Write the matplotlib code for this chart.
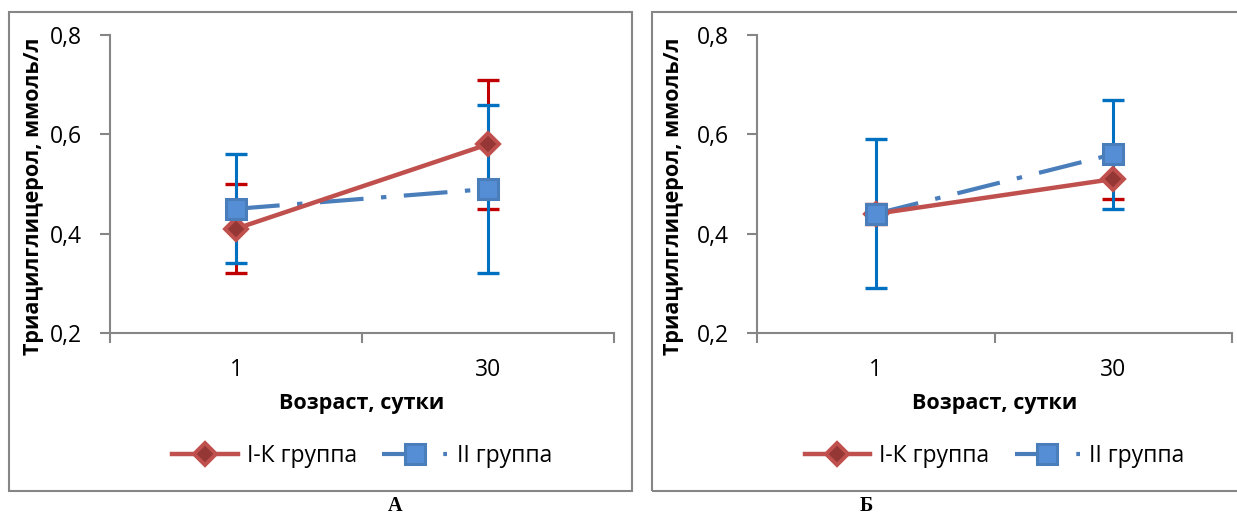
import matplotlib
matplotlib.use("Agg")
import matplotlib.pyplot as plt
from matplotlib.lines import Line2D
from matplotlib.patches import Rectangle

plt.rcParams['font.family'] = ['Open Sans', 'DejaVu Sans']

# ---- data ----
categories = ["1", "30"]
yticks = [0.2, 0.4, 0.6, 0.8]
ytick_labels = ["0,2", "0,4", "0,6", "0,8"]
series_names = ["I-К группа", "II группа"]

a_group1 = [0.41, 0.58]
a_group1_err = [0.09, 0.13]
a_group2 = [0.45, 0.49]
a_group2_err = [0.11, 0.17]

b_group1 = [0.44, 0.51]
b_group1_err = [0.02, 0.04]
b_group2 = [0.44, 0.56]
b_group2_err = [0.15, 0.11]

panel_labels = ["А", "Б"]
ylabel = "Триацилглицерол, ммоль/л"
xlabel = "Возраст, сутки"

# ---- style ----
W, H = 1237, 515
RED = "#C0504D"
RED_DARK = "#953735"
RED_ERR = "#C00000"
BLUE = "#4A7EBB"
BLUE_FILL = "#558ED5"
BLUE_ERR = "#0070C0"
GRAY = "#868686"
FS = 16.5
FSB = 15.5

fig = plt.figure(figsize=(W / 100, H / 100), dpi=100)


def fx(px):
    return px / W


def fy(py):
    return 1 - py / H


# panel borders
for (x0, x1) in [(9, 632), (652, 1245)]:
    fig.patches.append(Rectangle((fx(x0), fy(491)), fx(x1 - x0), (491 - 12) / H,
                                 transform=fig.transFigure, fill=False,
                                 edgecolor=GRAY, linewidth=1.5, zorder=0))

dash_pat = (10.5, 4.2, 1.3, 4.2)


def draw_panel(left_px, right_px, g1, g1e, g2, g2e, ylab_x, label, label_x):
    ax = fig.add_axes([fx(left_px), fy(333), fx(right_px - left_px), (333 - 35) / H])
    x = list(range(len(categories)))
    ax.errorbar(x, g1, yerr=g1e, fmt='none', ecolor=RED_ERR, elinewidth=2.2,
                capsize=8.0, capthick=2.4, zorder=2)
    ax.errorbar(x, g2, yerr=g2e, fmt='none', ecolor=BLUE_ERR, elinewidth=2.2,
                capsize=8.0, capthick=2.4, zorder=3)
    ax.plot(x, g2, color=BLUE, lw=3.0, dashes=dash_pat, zorder=4)
    ax.plot(x, g1, color=RED, lw=3.2, zorder=5, solid_capstyle='butt')
    ax.plot(x, g1, linestyle='none', marker='D', ms=11, mfc=RED_DARK, mec=RED,
            mew=2.8, zorder=6)
    ax.plot(x, g2, linestyle='none', marker='s', ms=14.5, mfc=BLUE_FILL, mec=BLUE,
            mew=2.2, zorder=7)

    ax.set_ylim(0.2, 0.8)
    ax.set_xlim(-0.5, len(categories) - 0.5)
    ax.set_yticks(yticks)
    ax.set_yticklabels(ytick_labels, fontsize=FS)
    ax.set_xticks([i - 0.5 for i in range(len(categories) + 1)])
    ax.set_xticklabels([])
    ax.set_xticks(x, minor=True)
    ax.set_xticklabels(categories, minor=True, fontsize=FS)
    ax.tick_params(axis='x', which='minor', length=0, pad=18)
    ax.tick_params(axis='both', which='major', length=7, width=1.5, color=GRAY)
    ax.tick_params(axis='y', pad=13.5)
    for s in ['top', 'right']:
        ax.spines[s].set_visible(False)
    for s in ['left', 'bottom']:
        ax.spines[s].set_color(GRAY)
        ax.spines[s].set_linewidth(1.5)

    fig.text(fx((left_px + right_px) / 2), fy(404), xlabel, ha='center', va='center',
             fontsize=FSB, fontweight='bold')
    fig.text(fx(ylab_x), fy(196), ylabel, rotation=90, ha='center', va='center',
             fontsize=FSB, fontweight='bold')

    h1 = Line2D([], [], color=RED, lw=3.2, marker='D', ms=11, mfc=RED_DARK, mec=RED, mew=2.8)
    h2 = Line2D([], [], color=BLUE, lw=3.0, dashes=dash_pat, marker='s', ms=14.5,
                mfc=BLUE_FILL, mec=BLUE, mew=2.2)
    ax.legend([h1, h2], series_names, loc='center', bbox_to_anchor=(0.5, (333 - 456) / 298),
              frameon=False, fontsize=FS, ncol=2, handlelength=2.85, handletextpad=0.4,
              columnspacing=1.1, numpoints=1)

    fig.text(fx(label_x), fy(506), label, ha='center', va='center', fontsize=14.5,
             fontweight='bold', family='Liberation Serif')
    return ax


draw_panel(110, 614, a_group1, a_group1_err, a_group2, a_group2_err, 34, panel_labels[0], 395)
draw_panel(757, 1232, b_group1, b_group1_err, b_group2, b_group2_err, 673, panel_labels[1], 866)

fig.savefig("out.png", dpi=100)
